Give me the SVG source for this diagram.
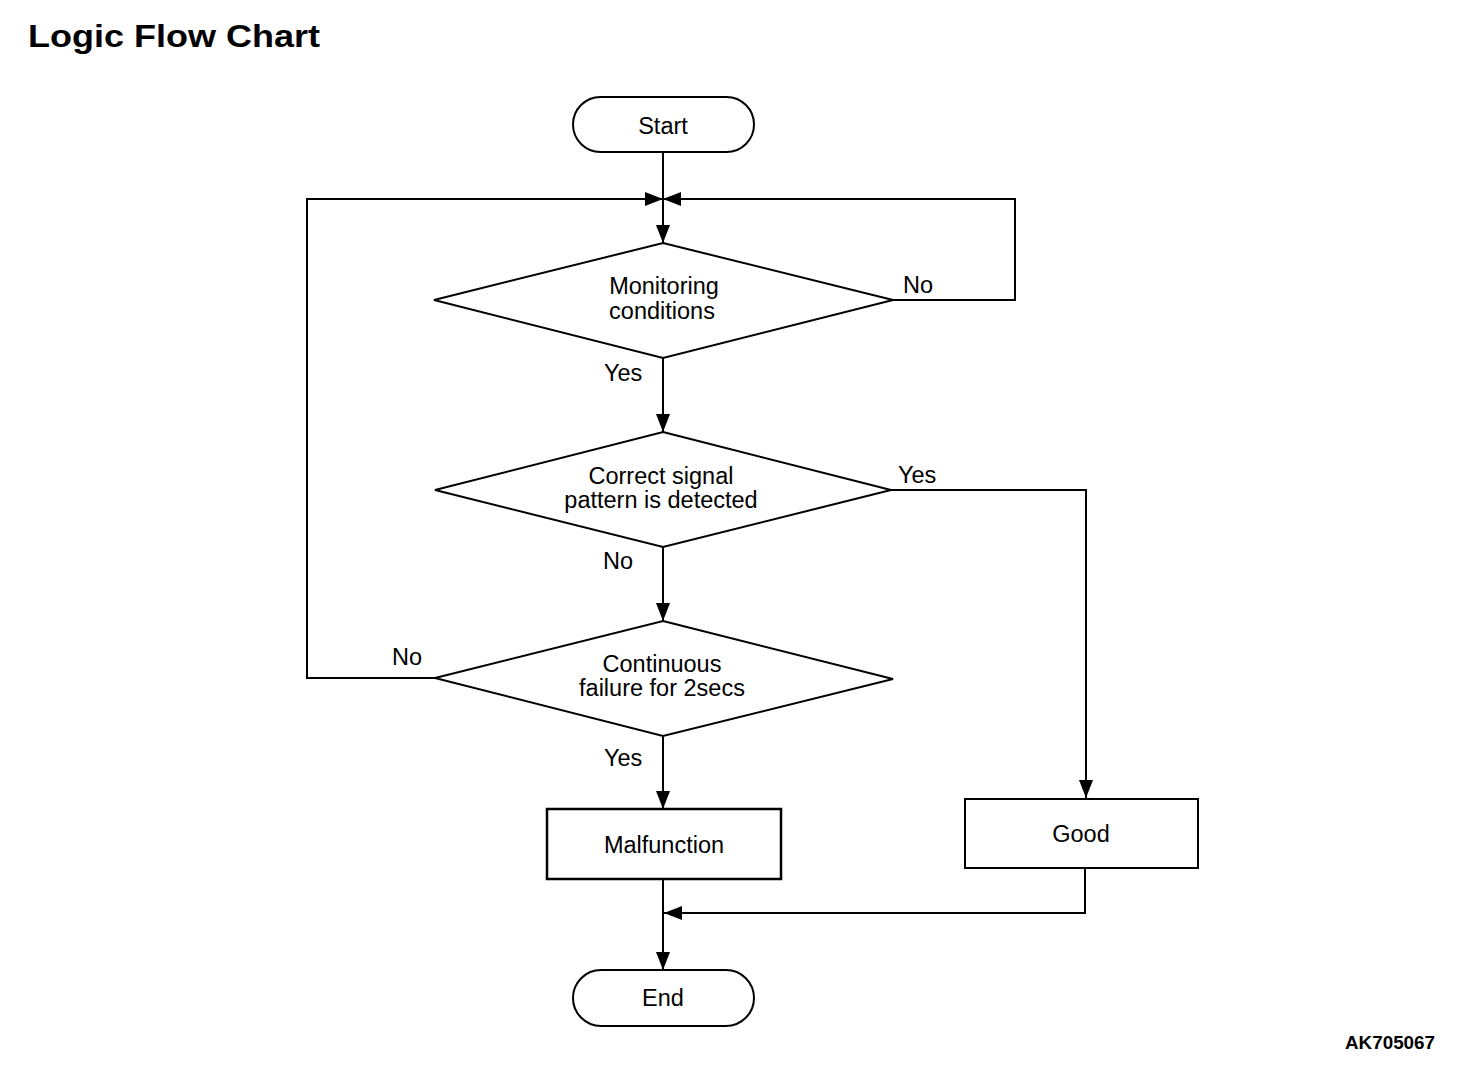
<svg xmlns="http://www.w3.org/2000/svg" width="1472" height="1070" viewBox="0 0 1472 1070">
<style>
.s{fill:#fff;stroke:#000;stroke-width:2}
.b{fill:#fff;stroke:#000;stroke-width:2.5}
.c{fill:none;stroke:#000;stroke-width:2}
.t{font-family:"Liberation Sans",Arial,sans-serif;font-size:23.5px;fill:#000;text-anchor:middle}
.l{font-family:"Liberation Sans",Arial,sans-serif;font-size:23.5px;fill:#000}
</style>
<defs>
<marker id="a" viewBox="0 0 18 14" refX="18" refY="7" markerWidth="18" markerHeight="14" markerUnits="userSpaceOnUse" orient="auto">
<path d="M0,0 L18,7 L0,14 Z" fill="#000"/>
</marker>
</defs>
<rect width="1472" height="1070" fill="#fff"/>
<text x="28" y="47" font-family="Liberation Sans,Arial,sans-serif" font-size="32" font-weight="bold" textLength="292" lengthAdjust="spacingAndGlyphs">Logic Flow Chart</text>
<text x="1435" y="1049" font-family="Liberation Sans,Arial,sans-serif" font-size="18" font-weight="bold" text-anchor="end" textLength="90" lengthAdjust="spacingAndGlyphs">AK705067</text>
<g id="connectors">
<path class="c" d="M663,152 V243" marker-end="url(#a)"/>
<path class="c" d="M893,300 H1015 V199 H663" marker-end="url(#a)"/>
<path class="c" d="M435,678 H307 V199 H663" marker-end="url(#a)"/>
<path class="c" d="M663,358 V432" marker-end="url(#a)"/>
<path class="c" d="M891,490 H1086 V798" marker-end="url(#a)"/>
<path class="c" d="M663,547 V621" marker-end="url(#a)"/>
<path class="c" d="M663,736 V809" marker-end="url(#a)"/>
<path class="c" d="M663,879 V970" marker-end="url(#a)"/>
<path class="c" d="M1085,868 V913 H664" marker-end="url(#a)"/>
<text class="l" x="903" y="293">No</text>
<text class="l" x="604" y="381">Yes</text>
<text class="l" x="898" y="483">Yes</text>
<text class="l" x="603" y="569">No</text>
<text class="l" x="392" y="665">No</text>
<text class="l" x="604" y="766">Yes</text>
</g>
<g id="start">
<rect class="s" x="573" y="97" width="181" height="55" rx="27.5"/>
<text class="t" x="663" y="134">Start</text>
</g>
<g id="monitoring">
<polygon class="s" points="663,243 893,300 663,358 434,300"/>
<text class="t" x="664" y="294">Monitoring</text>
<text class="t" x="662" y="319">conditions</text>
</g>
<g id="signal">
<polygon class="s" points="663,432 891,490 663,547 435,490"/>
<text class="t" x="661" y="484">Correct signal</text>
<text class="t" x="661" y="508">pattern is detected</text>
</g>
<g id="continuous">
<polygon class="s" points="663,621 893,679 663,736 435,678"/>
<text class="t" x="662" y="672">Continuous</text>
<text class="t" x="662" y="696">failure for 2secs</text>
</g>
<g id="malfunction">
<rect class="b" x="547" y="809" width="234" height="70"/>
<text class="t" x="664" y="853">Malfunction</text>
</g>
<g id="good">
<rect class="s" x="965" y="799" width="233" height="69"/>
<text class="t" x="1081" y="842">Good</text>
</g>
<g id="end">
<rect class="s" x="573" y="970" width="181" height="56" rx="28"/>
<text class="t" x="663" y="1006">End</text>
</g>
</svg>
